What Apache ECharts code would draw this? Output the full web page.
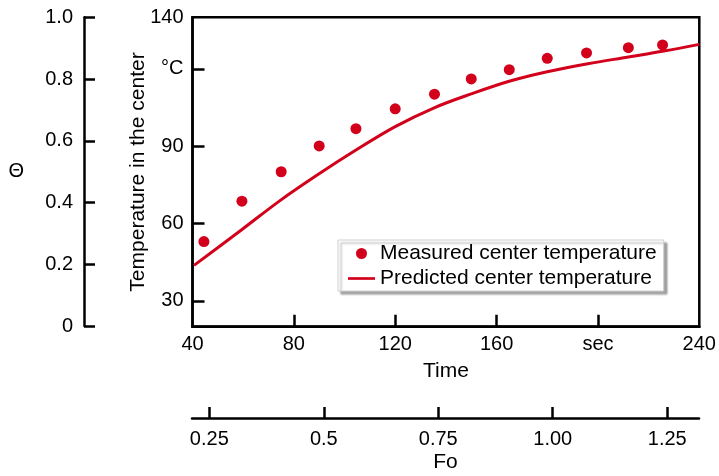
<!DOCTYPE html>
<html>
<head>
<meta charset="utf-8">
<script src="https://cdn.jsdelivr.net/npm/echarts@6/dist/echarts.min.js"></script>
<style>html,body{margin:0;padding:0;background:#fff;}#c{width:719px;height:476px;}</style>
</head>
<body>
<div id="c"></div>
<script>
// ---- data ----
const timeMeasured  = [44.5, 59.5, 75, 90, 104.5, 120, 135.5, 150, 165, 180, 195.5, 212, 225.5];
const tempMeasured  = [53.0, 68.7, 80.1, 90.1, 96.8, 104.5, 110.2, 116.1, 119.7, 124.1, 126.2, 128.2, 129.3];
const timePredicted = [40.6, 59.4, 74.8, 89.8, 104.5, 120, 135.6, 150, 165.3, 180, 196, 212, 226, 240];
const tempPredicted = [43.8, 57.6, 69.1, 79.2, 88.5, 97.6, 105.0, 110.3, 115.3, 118.9, 122.0, 124.6, 126.9, 129.5];

const timeTicks  = [40, 80, 120, 160, 200, 240];
const timeLabels = ['40', '80', '120', '160', 'sec', '240'];
const tempTicks  = [30, 60, 90, 120, 140];
const tempLabels = ['30', '60', '90', '°C', '140'];
const thetaTicks  = [0, 0.2, 0.4, 0.6, 0.8, 1.0];
const thetaLabels = ['0', '0.2', '0.4', '0.6', '0.8', '1.0'];
const foTicks  = [0.25, 0.5, 0.75, 1.0, 1.25];
const foLabels = ['0.25', '0.5', '0.75', '1.00', '1.25'];

const seriesNames = ['Measured center temperature', 'Predicted center temperature'];

// ---- chart ----
const FONT = '"Liberation Sans", Arial, Helvetica, sans-serif';
const BLACK = '#000';
const RED = '#d2001b';
const LW = 2.5;
const tickFs = 20;
const nameFs = 21;

function lbl(ticks, labels) {
  return function (v) {
    for (let i = 0; i < ticks.length; i++) if (Math.abs(ticks[i] - v) < 1e-9) return labels[i];
    return '';
  };
}

const chart = echarts.init(document.getElementById('c'), null, {renderer: 'canvas'});
const axisLine = {show: true, onZero: false, lineStyle: {color: BLACK, width: LW}};
const tickText = {color: BLACK, fontFamily: FONT, fontSize: tickFs};
const nameText = {color: BLACK, fontFamily: FONT, fontSize: nameFs};

chart.setOption({
  animation: false,
  backgroundColor: '#fff',
  textStyle: {fontFamily: FONT},
  grid: [
    {left: 192.5, right: 19.7, top: 17.3, bottom: 149.3, show: true, borderColor: BLACK, borderWidth: LW, backgroundColor: 'transparent'},
    {left: 84, width: 1, top: 17.3, bottom: 150},
    {left: 192, right: 20, top: 400, bottom: 58}
  ],
  xAxis: [
    {
      gridIndex: 0, type: 'value', min: 40, max: 240,
      axisLine: axisLine,
      axisTick: {show: true, inside: true, length: 12, lineStyle: {color: BLACK, width: LW}, customValues: timeTicks.slice(1, -1)},
      axisLabel: Object.assign({margin: 8, customValues: timeTicks, formatter: lbl(timeTicks, timeLabels)}, tickText),
      splitLine: {show: false},
      name: 'Time', nameLocation: 'middle', nameGap: 34, nameMoveOverlap: false, nameTextStyle: nameText
    },
    {gridIndex: 1, type: 'value', show: false},
    {
      gridIndex: 2, type: 'value', min: 0.2122, max: 1.3194, position: 'bottom',
      axisLine: axisLine,
      axisTick: {show: true, inside: true, length: 11, lineStyle: {color: BLACK, width: LW}, customValues: foTicks},
      axisLabel: Object.assign({margin: 11, customValues: foTicks, formatter: lbl(foTicks, foLabels)}, tickText),
      splitLine: {show: false},
      name: 'Fo', nameLocation: 'middle', nameGap: 34, nameMoveOverlap: false, nameTextStyle: nameText
    }
  ],
  yAxis: [
    {
      gridIndex: 0, type: 'value', min: 20, max: 140,
      axisLine: axisLine,
      axisTick: {show: true, inside: true, length: 12, lineStyle: {color: BLACK, width: LW}, customValues: tempTicks.slice(0, -1)},
      axisLabel: Object.assign({margin: 9, customValues: tempTicks, formatter: lbl(tempTicks, tempLabels)}, tickText),
      splitLine: {show: false},
      name: 'Temperature in the center', nameLocation: 'middle', nameGap: 44, nameMoveOverlap: false, nameTextStyle: nameText
    },
    {
      gridIndex: 1, type: 'value', min: 0, max: 1,
      axisLine: axisLine,
      axisTick: {show: true, inside: true, length: 11, lineStyle: {color: BLACK, width: LW}, customValues: thetaTicks},
      axisLabel: Object.assign({margin: 11, customValues: thetaTicks, formatter: lbl(thetaTicks, thetaLabels)}, tickText),
      splitLine: {show: false},
      name: 'Θ', nameLocation: 'middle', nameRotate: 0, nameGap: 60, nameMoveOverlap: false, nameTextStyle: tickText
    },
    {gridIndex: 2, type: 'value', show: false}
  ],
  legend: {
    orient: 'vertical',
    left: 338, top: 240,
    padding: [3, 7, 2, 10],
    itemGap: 4,
    itemWidth: 27, itemHeight: 11,
    backgroundColor: '#fff',
    borderColor: '#cfcfcf', borderWidth: 1,
    shadowColor: 'rgba(0,0,0,0.35)', shadowOffsetX: 3, shadowOffsetY: 3, shadowBlur: 2,
    textStyle: {color: BLACK, fontFamily: FONT, fontSize: nameFs},
    data: [
      {name: seriesNames[0], icon: 'circle'},
      {name: seriesNames[1], icon: 'path://M0,0 H30 V3 H0 Z'}
    ]
  },
  series: [
    {
      name: seriesNames[0], type: 'scatter', xAxisIndex: 0, yAxisIndex: 0,
      symbol: 'circle', symbolSize: 11,
      itemStyle: {color: RED, opacity: 1},
      data: timeMeasured.map((t, i) => [t, tempMeasured[i]]),
      z: 3
    },
    {
      name: seriesNames[1], type: 'line', xAxisIndex: 0, yAxisIndex: 0,
      showSymbol: false, symbol: 'none', smooth: 0.35,
      lineStyle: {color: RED, width: 3},
      itemStyle: {color: RED},
      data: timePredicted.map((t, i) => [t, tempPredicted[i]]),
      z: 2
    }
  ]
});
</script>
</body>
</html>
